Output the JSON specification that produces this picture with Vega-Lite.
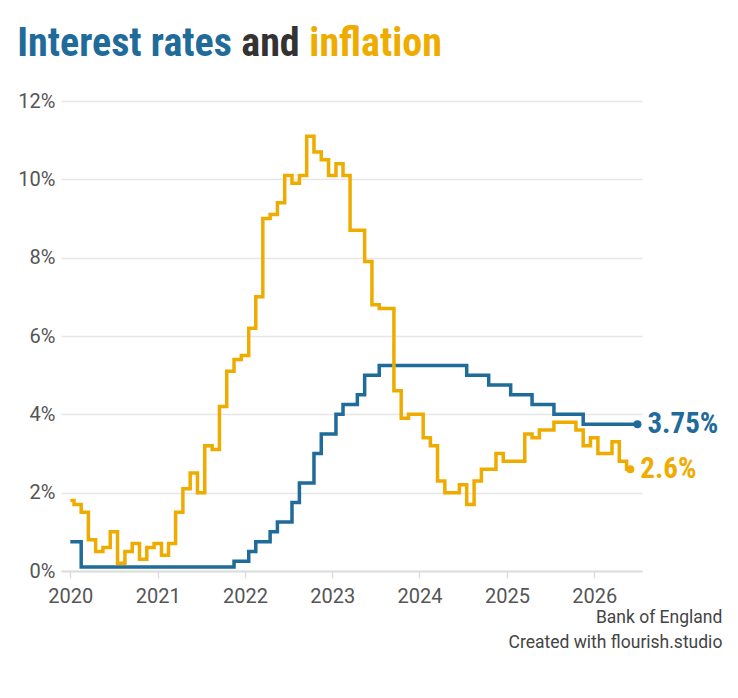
{
  "$schema": "https://vega.github.io/schema/vega-lite/v6.json",
  "background": "white",
  "padding": {"left": 17, "top": 23, "right": 0, "bottom": 0},
  "config": {
    "view": {"stroke": null},
    "font": "Roboto",
    "title": {"anchor": "start", "offset": 0, "fontWeight": "bold", "fontSize": 40, "font": "Roboto Condensed", "dx": -43.7}
  },
  "datasets": {
    "rates": [
      {"date": "2020-01-01", "series": "Interest rate", "value": 0.75},
      {"date": "2020-02-01", "series": "Interest rate", "value": 0.75},
      {"date": "2020-03-01", "series": "Interest rate", "value": 0.1},
      {"date": "2020-04-01", "series": "Interest rate", "value": 0.1},
      {"date": "2020-05-01", "series": "Interest rate", "value": 0.1},
      {"date": "2020-06-01", "series": "Interest rate", "value": 0.1},
      {"date": "2020-07-01", "series": "Interest rate", "value": 0.1},
      {"date": "2020-08-01", "series": "Interest rate", "value": 0.1},
      {"date": "2020-09-01", "series": "Interest rate", "value": 0.1},
      {"date": "2020-10-01", "series": "Interest rate", "value": 0.1},
      {"date": "2020-11-01", "series": "Interest rate", "value": 0.1},
      {"date": "2020-12-01", "series": "Interest rate", "value": 0.1},
      {"date": "2021-01-01", "series": "Interest rate", "value": 0.1},
      {"date": "2021-02-01", "series": "Interest rate", "value": 0.1},
      {"date": "2021-03-01", "series": "Interest rate", "value": 0.1},
      {"date": "2021-04-01", "series": "Interest rate", "value": 0.1},
      {"date": "2021-05-01", "series": "Interest rate", "value": 0.1},
      {"date": "2021-06-01", "series": "Interest rate", "value": 0.1},
      {"date": "2021-07-01", "series": "Interest rate", "value": 0.1},
      {"date": "2021-08-01", "series": "Interest rate", "value": 0.1},
      {"date": "2021-09-01", "series": "Interest rate", "value": 0.1},
      {"date": "2021-10-01", "series": "Interest rate", "value": 0.1},
      {"date": "2021-11-01", "series": "Interest rate", "value": 0.1},
      {"date": "2021-12-01", "series": "Interest rate", "value": 0.25},
      {"date": "2022-01-01", "series": "Interest rate", "value": 0.25},
      {"date": "2022-02-01", "series": "Interest rate", "value": 0.5},
      {"date": "2022-03-01", "series": "Interest rate", "value": 0.75},
      {"date": "2022-04-01", "series": "Interest rate", "value": 0.75},
      {"date": "2022-05-01", "series": "Interest rate", "value": 1.0},
      {"date": "2022-06-01", "series": "Interest rate", "value": 1.25},
      {"date": "2022-07-01", "series": "Interest rate", "value": 1.25},
      {"date": "2022-08-01", "series": "Interest rate", "value": 1.75},
      {"date": "2022-09-01", "series": "Interest rate", "value": 2.25},
      {"date": "2022-10-01", "series": "Interest rate", "value": 2.25},
      {"date": "2022-11-01", "series": "Interest rate", "value": 3.0},
      {"date": "2022-12-01", "series": "Interest rate", "value": 3.5},
      {"date": "2023-01-01", "series": "Interest rate", "value": 3.5},
      {"date": "2023-02-01", "series": "Interest rate", "value": 4.0},
      {"date": "2023-03-01", "series": "Interest rate", "value": 4.25},
      {"date": "2023-04-01", "series": "Interest rate", "value": 4.25},
      {"date": "2023-05-01", "series": "Interest rate", "value": 4.5},
      {"date": "2023-06-01", "series": "Interest rate", "value": 5.0},
      {"date": "2023-07-01", "series": "Interest rate", "value": 5.0},
      {"date": "2023-08-01", "series": "Interest rate", "value": 5.25},
      {"date": "2023-09-01", "series": "Interest rate", "value": 5.25},
      {"date": "2023-10-01", "series": "Interest rate", "value": 5.25},
      {"date": "2023-11-01", "series": "Interest rate", "value": 5.25},
      {"date": "2023-12-01", "series": "Interest rate", "value": 5.25},
      {"date": "2024-01-01", "series": "Interest rate", "value": 5.25},
      {"date": "2024-02-01", "series": "Interest rate", "value": 5.25},
      {"date": "2024-03-01", "series": "Interest rate", "value": 5.25},
      {"date": "2024-04-01", "series": "Interest rate", "value": 5.25},
      {"date": "2024-05-01", "series": "Interest rate", "value": 5.25},
      {"date": "2024-06-01", "series": "Interest rate", "value": 5.25},
      {"date": "2024-07-01", "series": "Interest rate", "value": 5.25},
      {"date": "2024-08-01", "series": "Interest rate", "value": 5.0},
      {"date": "2024-09-01", "series": "Interest rate", "value": 5.0},
      {"date": "2024-10-01", "series": "Interest rate", "value": 5.0},
      {"date": "2024-11-01", "series": "Interest rate", "value": 4.75},
      {"date": "2024-12-01", "series": "Interest rate", "value": 4.75},
      {"date": "2025-01-01", "series": "Interest rate", "value": 4.75},
      {"date": "2025-02-01", "series": "Interest rate", "value": 4.5},
      {"date": "2025-03-01", "series": "Interest rate", "value": 4.5},
      {"date": "2025-04-01", "series": "Interest rate", "value": 4.5},
      {"date": "2025-05-01", "series": "Interest rate", "value": 4.25},
      {"date": "2025-06-01", "series": "Interest rate", "value": 4.25},
      {"date": "2025-07-01", "series": "Interest rate", "value": 4.25},
      {"date": "2025-08-01", "series": "Interest rate", "value": 4.0},
      {"date": "2025-09-01", "series": "Interest rate", "value": 4.0},
      {"date": "2025-10-01", "series": "Interest rate", "value": 4.0},
      {"date": "2025-11-01", "series": "Interest rate", "value": 4.0},
      {"date": "2025-12-01", "series": "Interest rate", "value": 3.75},
      {"date": "2026-01-01", "series": "Interest rate", "value": 3.75},
      {"date": "2026-02-01", "series": "Interest rate", "value": 3.75},
      {"date": "2026-03-01", "series": "Interest rate", "value": 3.75},
      {"date": "2026-04-01", "series": "Interest rate", "value": 3.75},
      {"date": "2026-05-01", "series": "Interest rate", "value": 3.75},
      {"date": "2026-06-01", "series": "Interest rate", "value": 3.75},
      {"date": "2026-07-01", "series": "Interest rate", "value": 3.75},
      {"date": "2020-01-01", "series": "Inflation", "value": 1.8},
      {"date": "2020-02-01", "series": "Inflation", "value": 1.7},
      {"date": "2020-03-01", "series": "Inflation", "value": 1.5},
      {"date": "2020-04-01", "series": "Inflation", "value": 0.8},
      {"date": "2020-05-01", "series": "Inflation", "value": 0.5},
      {"date": "2020-06-01", "series": "Inflation", "value": 0.6},
      {"date": "2020-07-01", "series": "Inflation", "value": 1.0},
      {"date": "2020-08-01", "series": "Inflation", "value": 0.2},
      {"date": "2020-09-01", "series": "Inflation", "value": 0.5},
      {"date": "2020-10-01", "series": "Inflation", "value": 0.7},
      {"date": "2020-11-01", "series": "Inflation", "value": 0.3},
      {"date": "2020-12-01", "series": "Inflation", "value": 0.6},
      {"date": "2021-01-01", "series": "Inflation", "value": 0.7},
      {"date": "2021-02-01", "series": "Inflation", "value": 0.4},
      {"date": "2021-03-01", "series": "Inflation", "value": 0.7},
      {"date": "2021-04-01", "series": "Inflation", "value": 1.5},
      {"date": "2021-05-01", "series": "Inflation", "value": 2.1},
      {"date": "2021-06-01", "series": "Inflation", "value": 2.5},
      {"date": "2021-07-01", "series": "Inflation", "value": 2.0},
      {"date": "2021-08-01", "series": "Inflation", "value": 3.2},
      {"date": "2021-09-01", "series": "Inflation", "value": 3.1},
      {"date": "2021-10-01", "series": "Inflation", "value": 4.2},
      {"date": "2021-11-01", "series": "Inflation", "value": 5.1},
      {"date": "2021-12-01", "series": "Inflation", "value": 5.4},
      {"date": "2022-01-01", "series": "Inflation", "value": 5.5},
      {"date": "2022-02-01", "series": "Inflation", "value": 6.2},
      {"date": "2022-03-01", "series": "Inflation", "value": 7.0},
      {"date": "2022-04-01", "series": "Inflation", "value": 9.0},
      {"date": "2022-05-01", "series": "Inflation", "value": 9.1},
      {"date": "2022-06-01", "series": "Inflation", "value": 9.4},
      {"date": "2022-07-01", "series": "Inflation", "value": 10.1},
      {"date": "2022-08-01", "series": "Inflation", "value": 9.9},
      {"date": "2022-09-01", "series": "Inflation", "value": 10.1},
      {"date": "2022-10-01", "series": "Inflation", "value": 11.1},
      {"date": "2022-11-01", "series": "Inflation", "value": 10.7},
      {"date": "2022-12-01", "series": "Inflation", "value": 10.5},
      {"date": "2023-01-01", "series": "Inflation", "value": 10.1},
      {"date": "2023-02-01", "series": "Inflation", "value": 10.4},
      {"date": "2023-03-01", "series": "Inflation", "value": 10.1},
      {"date": "2023-04-01", "series": "Inflation", "value": 8.7},
      {"date": "2023-05-01", "series": "Inflation", "value": 8.7},
      {"date": "2023-06-01", "series": "Inflation", "value": 7.9},
      {"date": "2023-07-01", "series": "Inflation", "value": 6.8},
      {"date": "2023-08-01", "series": "Inflation", "value": 6.7},
      {"date": "2023-09-01", "series": "Inflation", "value": 6.7},
      {"date": "2023-10-01", "series": "Inflation", "value": 4.6},
      {"date": "2023-11-01", "series": "Inflation", "value": 3.9},
      {"date": "2023-12-01", "series": "Inflation", "value": 4.0},
      {"date": "2024-01-01", "series": "Inflation", "value": 4.0},
      {"date": "2024-02-01", "series": "Inflation", "value": 3.4},
      {"date": "2024-03-01", "series": "Inflation", "value": 3.2},
      {"date": "2024-04-01", "series": "Inflation", "value": 2.3},
      {"date": "2024-05-01", "series": "Inflation", "value": 2.0},
      {"date": "2024-06-01", "series": "Inflation", "value": 2.0},
      {"date": "2024-07-01", "series": "Inflation", "value": 2.2},
      {"date": "2024-08-01", "series": "Inflation", "value": 1.7},
      {"date": "2024-09-01", "series": "Inflation", "value": 2.3},
      {"date": "2024-10-01", "series": "Inflation", "value": 2.6},
      {"date": "2024-11-01", "series": "Inflation", "value": 2.6},
      {"date": "2024-12-01", "series": "Inflation", "value": 3.0},
      {"date": "2025-01-01", "series": "Inflation", "value": 2.8},
      {"date": "2025-02-01", "series": "Inflation", "value": 2.8},
      {"date": "2025-03-01", "series": "Inflation", "value": 2.8},
      {"date": "2025-04-01", "series": "Inflation", "value": 3.5},
      {"date": "2025-05-01", "series": "Inflation", "value": 3.4},
      {"date": "2025-06-01", "series": "Inflation", "value": 3.6},
      {"date": "2025-07-01", "series": "Inflation", "value": 3.6},
      {"date": "2025-08-01", "series": "Inflation", "value": 3.8},
      {"date": "2025-09-01", "series": "Inflation", "value": 3.8},
      {"date": "2025-10-01", "series": "Inflation", "value": 3.8},
      {"date": "2025-11-01", "series": "Inflation", "value": 3.6},
      {"date": "2025-12-01", "series": "Inflation", "value": 3.2},
      {"date": "2026-01-01", "series": "Inflation", "value": 3.4},
      {"date": "2026-02-01", "series": "Inflation", "value": 3.0},
      {"date": "2026-03-01", "series": "Inflation", "value": 3.0},
      {"date": "2026-04-01", "series": "Inflation", "value": 3.3},
      {"date": "2026-05-01", "series": "Inflation", "value": 2.8},
      {"date": "2026-06-01", "series": "Inflation", "value": 2.6}
    ]
  },
  "vconcat": [
    {
      "spacing": 9,
      "hconcat": [
        {"title": {"text": "Interest rates", "color": "#1f6b99"}, "width": 1, "height": 1, "data": {"values": [{}]}, "mark": "text", "encoding": {"text": {"value": ""}}},
        {"title": {"text": "and", "color": "#333333"}, "width": 1, "height": 1, "data": {"values": [{}]}, "mark": "text", "encoding": {"text": {"value": ""}}},
        {"title": {"text": "inflation", "color": "#efac00"}, "width": 1, "height": 1, "data": {"values": [{}]}, "mark": "text", "encoding": {"text": {"value": ""}}}
      ]
    },
    {
      "width": 581,
      "height": 470,
      "data": {"name": "rates"},
      "title": {
        "text": ["Bank of England", "Created with flourish.studio"],
        "orient": "bottom",
        "anchor": "end",
        "font": "Roboto",
        "fontSize": 17.5,
        "fontWeight": "normal",
        "color": "#444444",
        "lineHeight": 25,
        "offset": 3,
        "dx": 4
      },
      "encoding": {
        "x": {
          "field": "date",
          "type": "temporal",
          "scale": {"type": "utc", "domain": [{"year": 2019, "month": 11, "date": 23, "utc": true}, {"year": 2026, "month": 7, "date": 20, "utc": true}]},
          "axis": {
            "title": null,
            "format": "%Y",
            "values": [{"year": 2020, "utc": true}, {"year": 2021, "utc": true}, {"year": 2022, "utc": true}, {"year": 2023, "utc": true}, {"year": 2024, "utc": true}, {"year": 2025, "utc": true}, {"year": 2026, "utc": true}],
            "grid": false,
            "domainColor": "#dddddd",
            "domainWidth": 2,
            "tickColor": "#dddddd",
            "tickWidth": 1.5,
            "tickSize": 7,
            "labelFont": "Roboto",
            "labelFontSize": 20,
            "labelColor": "#555555",
            "labelPadding": 8
          }
        },
        "y": {
          "field": "value",
          "type": "quantitative",
          "scale": {"domain": [0, 12], "nice": false},
          "axis": {
            "title": null,
            "values": [0, 2, 4, 6, 8, 10, 12],
            "labelExpr": "datum.value + '%'",
            "domain": false,
            "ticks": false,
            "grid": true,
            "gridColor": "#e6e6e6",
            "gridWidth": 1.5,
            "labelFont": "Roboto",
            "labelFontSize": 20,
            "labelColor": "#555555",
            "labelPadding": 6
          }
        },
        "color": {
          "field": "series",
          "type": "nominal",
          "scale": {"domain": ["Interest rate", "Inflation"], "range": ["#1f6b99", "#efac00"]},
          "legend": null
        }
      },
      "layer": [
        {"mark": {"type": "line", "interpolate": "step", "strokeWidth": 3.5}},
        {
          "transform": [
            {"joinaggregate": [{"op": "max", "field": "date", "as": "last"}], "groupby": ["series"]},
            {"filter": "time(datum.date) === time(datum.last)"}
          ],
          "mark": {"type": "circle", "size": 64, "opacity": 1}
        },
        {
          "transform": [
            {"joinaggregate": [{"op": "max", "field": "date", "as": "last"}], "groupby": ["series"]},
            {"filter": "time(datum.date) === time(datum.last)"},
            {"calculate": "datum.value + '%'", "as": "label"}
          ],
          "mark": {"type": "text", "align": "left", "baseline": "middle", "dx": 10, "font": "Roboto Condensed", "fontSize": 29, "fontWeight": "bold"},
          "encoding": {"text": {"field": "label"}}
        }
      ]
    }
  ],
  "spacing": 12
}
